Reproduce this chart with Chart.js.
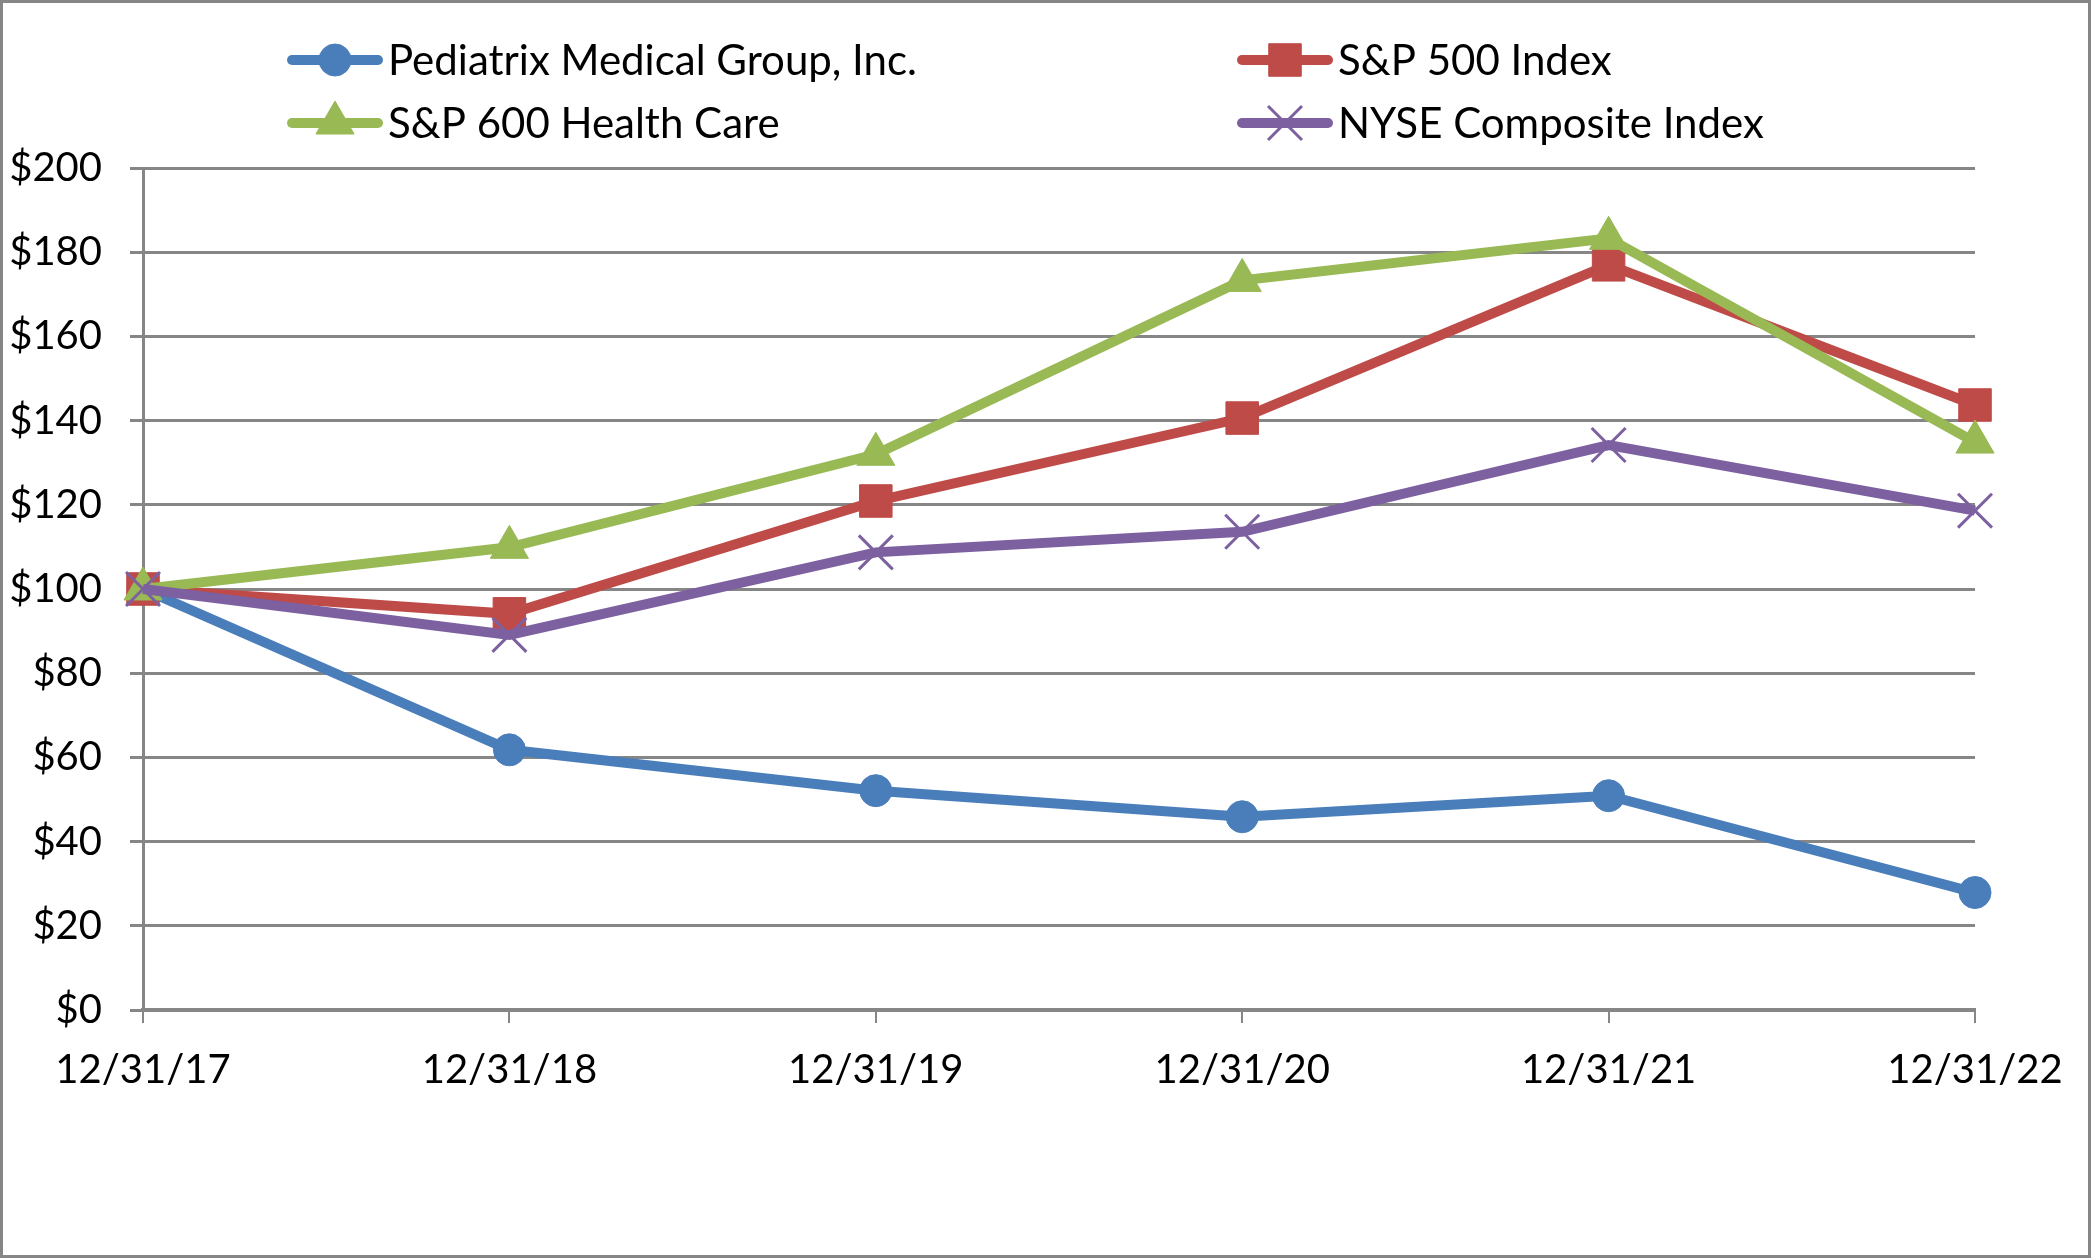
<!DOCTYPE html>
<html>
<head>
<meta charset="utf-8">
<script src="https://cdn.jsdelivr.net/npm/chart.js@4/dist/chart.umd.min.js"></script>
<style>
  html, body { margin: 0; padding: 0; background: #ffffff; }
  #wrap { width: 2091px; height: 1258px; }
</style>
</head>
<body>
<div id="wrap"><canvas id="perf-chart" width="2091" height="1258"></canvas></div>
<script>
// Chart data
const periods = ['12/31/17', '12/31/18', '12/31/19', '12/31/20', '12/31/21', '12/31/22'];
const seriesNames = ['Pediatrix Medical Group, Inc.', 'S&P 500 Index', 'S&P 600 Health Care', 'NYSE Composite Index'];
const pediatrixValues = [100, 61.8, 52.1, 45.9, 50.9, 27.9];
const sp500Values = [100, 94.1, 120.9, 140.6, 177.0, 143.7];
const sp600HealthValues = [100, 109.9, 132.0, 173.3, 183.3, 134.9];
const nyseValues = [100, 89.1, 108.7, 113.6, 134.2, 118.6];
const yTicks = [0, 20, 40, 60, 80, 100, 120, 140, 160, 180, 200];

const FONT = "Lato, 'Liberation Sans', sans-serif";
const FONT_SIZE = 42;
const TICK_FONT_SIZE = 40;
const GRID = '#868686';

const styles = [
    { color: '#4A7EBB', pointStyle: 'circle', radius: 16, pointBorder: 1 },
    { color: '#BE4B48', pointStyle: 'rect', radius: 23, pointBorder: 1 },
    { color: '#98B954', pointStyle: 'triangle', radius: 22, pointBorder: 1 },
    { color: '#7D60A0', pointStyle: 'crossRot', radius: 24, pointBorder: 3 },
];
const values = [pediatrixValues, sp500Values, sp600HealthValues, nyseValues];

// white background + outer frame
const framePlugin = {
    id: 'frame',
    beforeDraw(chart) {
        const ctx = chart.ctx;
        ctx.save();
        ctx.fillStyle = '#ffffff';
        ctx.fillRect(0, 0, chart.width, chart.height);
        ctx.strokeStyle = GRID;
        ctx.lineWidth = 3;
        ctx.strokeRect(1.5, 1.5, chart.width - 3, chart.height - 3);
        ctx.restore();
    },
};

// two-column legend like the original
const legendSpots = [
    { x: 287, y: 60 },
    { x: 1237, y: 60 },
    { x: 287, y: 123 },
    { x: 1237, y: 123 },
];
const legendOrder = [0, 1, 2, 3];

const gridLegendPlugin = {
    id: 'gridLegend',
    afterDraw(chart) {
        const ctx = chart.ctx;
        ctx.save();
        legendOrder.forEach((dsIndex, i) => {
            const spot = legendSpots[i];
            const st = styles[dsIndex];
            ctx.strokeStyle = st.color;
            ctx.fillStyle = st.color;
            ctx.lineWidth = 10;
            ctx.lineCap = 'round';
            ctx.beginPath();
            ctx.moveTo(spot.x + 5, spot.y);
            ctx.lineTo(spot.x + 91, spot.y);
            ctx.stroke();
            ctx.lineCap = 'butt';
            ctx.lineWidth = st.pointBorder;
            Chart.helpers.drawPoint(ctx, {
                pointStyle: st.pointStyle,
                radius: st.radius,
                rotation: 0,
                borderWidth: st.pointBorder,
            }, spot.x + 48, spot.y);
            ctx.fillStyle = '#000000';
            ctx.font = FONT_SIZE + 'px ' + FONT;
            ctx.textBaseline = 'middle';
            ctx.textAlign = 'left';
            ctx.fillText(seriesNames[dsIndex], spot.x + 101, spot.y + 1);
        });
        ctx.restore();
    },
};

const ctx = document.getElementById('perf-chart').getContext('2d');
new Chart(ctx, {
    type: 'line',
    data: {
        labels: periods,
        datasets: seriesNames.map((name, i) => ({
            label: name,
            data: values[i],
            // later series sit on top, as in the original
            order: seriesNames.length - i,
            borderColor: styles[i].color,
            backgroundColor: styles[i].color,
            borderWidth: 10,
            pointStyle: styles[i].pointStyle,
            pointRadius: styles[i].radius,
            pointHoverRadius: styles[i].radius,
            pointBorderWidth: styles[i].pointBorder,
            pointBackgroundColor: styles[i].color,
            pointBorderColor: styles[i].color,
            tension: 0,
            clip: false,
        })),
    },
    options: {
        responsive: false,
        animation: false,
        devicePixelRatio: 1,
        layout: {
            padding: { top: 168, right: 116, bottom: 0, left: 0 },
        },
        plugins: {
            legend: { display: false },
            tooltip: { enabled: false },
        },
        scales: {
            x: {
                type: 'category',
                offset: false,
                afterFit: (scale) => { scale.height = 248; },
                grid: {
                    drawOnChartArea: false,
                    drawTicks: true,
                    tickLength: 13,
                    color: GRID,
                    lineWidth: 2,
                },
                border: { display: true, color: GRID, width: 4 },
                ticks: {
                    color: '#000000',
                    autoSkip: false,
                    maxRotation: 0,
                    padding: 23,
                    font: { family: FONT, size: TICK_FONT_SIZE },
                },
            },
            y: {
                min: 0,
                max: 200,
                afterFit: (scale) => { scale.width = 143; },
                afterBuildTicks: (scale) => {
                    scale.ticks = yTicks.map(v => ({ value: v }));
                },
                grid: {
                    color: GRID,
                    lineWidth: 3,
                    tickLength: 13,
                },
                border: { display: true, color: GRID, width: 3 },
                ticks: {
                    color: '#000000',
                    padding: 28,
                    font: { family: FONT, size: TICK_FONT_SIZE },
                    callback: (v) => '$' + v,
                },
            },
        },
    },
    plugins: [framePlugin, gridLegendPlugin],
});
</script>
</body>
</html>
